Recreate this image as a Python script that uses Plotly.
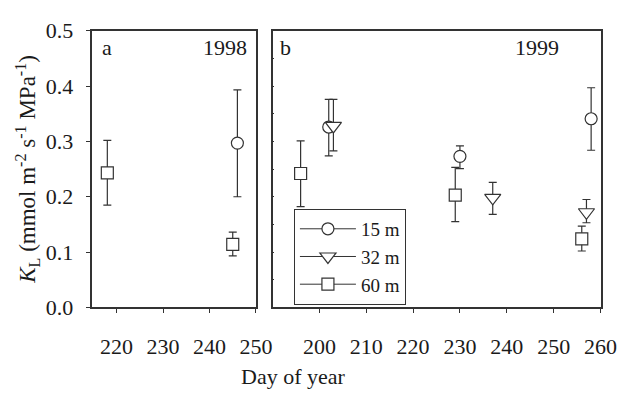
import plotly.graph_objects as go

W, H = 636, 402

# ---- data ----
# Panel a: 1998
a15_day = [246]
a15_kl = [0.297]
a15_hi = [0.393]
a15_lo = [0.200]

a60_day = [218, 245]
a60_kl = [0.243, 0.114]
a60_hi = [0.302, 0.136]
a60_lo = [0.185, 0.093]

# Panel b: 1999
b15_day = [202, 230, 258]
b15_kl = [0.326, 0.273, 0.341]
b15_hi = [0.376, 0.292, 0.397]
b15_lo = [0.274, 0.251, 0.284]

b32_day = [203, 237, 257]
b32_kl = [0.328, 0.198, 0.172]
b32_hi = [0.376, 0.226, 0.195]
b32_lo = [0.283, 0.168, 0.153]

b60_day = [196, 229, 256]
b60_kl = [0.242, 0.203, 0.124]
b60_hi = [0.301, 0.253, 0.147]
b60_lo = [0.182, 0.155, 0.102]

xticks_a = [220, 230, 240, 250]
xticks_b = [200, 210, 220, 230, 240, 250, 260]
series_names = ["15 m", "32 m", "60 m"]

INK = "#333333"
TXT = "#1a1a1a"
FONT = "Liberation Serif"

def px_x(p):
    return p / W

def px_y(p):
    return 1 - p / H

symbols = {"15 m": "circle", "32 m": "triangle-down", "60 m": "square"}
sizes = {"15 m": 12, "32 m": 14, "60 m": 12}

fig = go.Figure()

def add_series(x, y, hi, lo, name, xa, ya):
    fig.add_trace(go.Scatter(
        x=x, y=y, mode="markers", showlegend=False, name=name,
        xaxis=xa, yaxis=ya,
        marker=dict(symbol=symbols[name], size=sizes[name], color="white",
                    line=dict(color=INK, width=1.2)),
        error_y=dict(type="data", symmetric=False,
                     array=[h - v for h, v in zip(hi, y)],
                     arrayminus=[v - l for v, l in zip(y, lo)],
                     color=INK, thickness=1.2, width=4),
    ))

add_series(a60_day, a60_kl, a60_hi, a60_lo, "60 m", "x", "y")
add_series(a15_day, a15_kl, a15_hi, a15_lo, "15 m", "x", "y")
add_series(b60_day, b60_kl, b60_hi, b60_lo, "60 m", "x2", "y2")
add_series(b15_day, b15_kl, b15_hi, b15_lo, "15 m", "x2", "y2")
add_series(b32_day, b32_kl, b32_hi, b32_lo, "32 m", "x2", "y2")

# legend entries
for nm in series_names:
    fig.add_trace(go.Scatter(
        x=[None], y=[None], mode="lines+markers", name=nm, xaxis="x2", yaxis="y2",
        line=dict(color=INK, width=1),
        marker=dict(symbol=symbols[nm], size=sizes[nm], color="white",
                    line=dict(color=INK, width=1.2)),
    ))

ydom = [px_y(315), px_y(20)]
common_axis = dict(showline=True, linecolor=INK, linewidth=1.5, mirror=True,
                   showgrid=False, zeroline=False, tickcolor=INK,
                   tickfont=dict(family=FONT, size=22, color=TXT))

fig.update_layout(
    width=W, height=H,
    margin=dict(l=0, r=0, t=0, b=0),
    paper_bgcolor="white", plot_bgcolor="white",
    font=dict(family=FONT, color=TXT),
    xaxis=dict(domain=[px_x(95), px_x(263)], range=[214.8, 250], anchor="y",
               tickvals=xticks_a, ticks="outside", ticklen=4,
               ticklabelstandoff=14, **common_axis),
    yaxis=dict(domain=ydom, range=[0, 0.5], anchor="x", dtick=0.1,
               tickformat=".1f", ticks="outside", ticklen=5,
               ticklabelstandoff=8, **common_axis),
    xaxis2=dict(domain=[px_x(280), px_x(617)], range=[190, 260], anchor="y2",
                tickvals=xticks_b, ticks="outside", ticklen=4,
                ticklabelstandoff=14, **common_axis),
    yaxis2=dict(domain=ydom, range=[0, 0.5], anchor="x2", dtick=0.05,
                showticklabels=False, ticks="inside", ticklen=2, **common_axis),
    showlegend=True,
    legend=dict(x=px_x(302), y=px_y(210), xanchor="left", yanchor="top",
                bgcolor="white", bordercolor=INK, borderwidth=1,
                font=dict(family=FONT, size=19, color=TXT),
                itemwidth=56, tracegroupgap=0),
    annotations=[
        dict(text="a", x=px_x(103), y=px_y(38), xref="paper", yref="paper",
             xanchor="left", yanchor="middle", showarrow=False,
             font=dict(family=FONT, size=22, color=TXT)),
        dict(text="1998", x=px_x(256), y=px_y(38), xref="paper", yref="paper",
             xanchor="right", yanchor="middle", showarrow=False,
             font=dict(family=FONT, size=22, color=TXT)),
        dict(text="b", x=px_x(286), y=px_y(38), xref="paper", yref="paper",
             xanchor="left", yanchor="middle", showarrow=False,
             font=dict(family=FONT, size=22, color=TXT)),
        dict(text="1999", x=px_x(576), y=px_y(38), xref="paper", yref="paper",
             xanchor="right", yanchor="middle", showarrow=False,
             font=dict(family=FONT, size=22, color=TXT)),
        dict(text="Day of year", x=px_x(302), y=px_y(389), xref="paper", yref="paper",
             xanchor="center", yanchor="middle", showarrow=False,
             font=dict(family=FONT, size=22, color=TXT)),
        dict(text="<i>K</i><sub>L</sub> (mmol m<sup>-2</sup> s<sup>-1</sup> MPa<sup>-1</sup>)",
             x=px_x(28), y=px_y(168), xref="paper", yref="paper",
             xanchor="center", yanchor="middle", textangle=-90, showarrow=False,
             font=dict(family=FONT, size=23, color=TXT)),
    ],
)

fig.write_html("out.html")
